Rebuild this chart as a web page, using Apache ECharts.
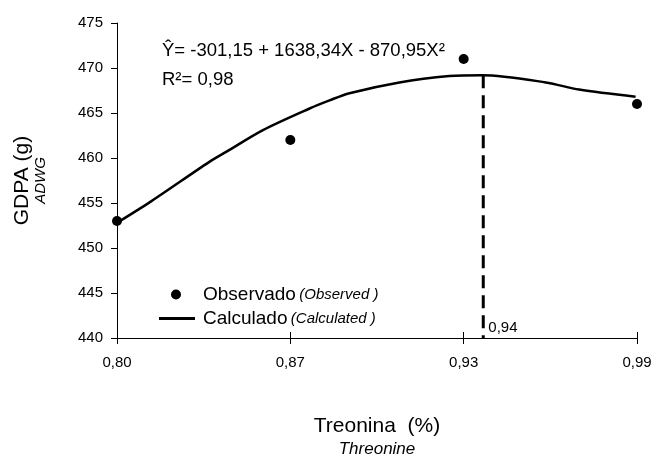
<!DOCTYPE html>
<html>
<head>
<meta charset="utf-8">
<script src="https://cdn.jsdelivr.net/npm/echarts@6/dist/echarts.min.js"></script>
<style>
    html, body { margin: 0; padding: 0; background: #fff; }
    #main { width: 651px; height: 457px; }
</style>
</head>
<body>
<div id="main"></div>
<script type="text/javascript">
    // níveis de treonina (eixo x em posições iguais)
    var categories = ['0,80', '0,87', '0,93', '0,99'];
    // observado
    var obsX = [0, 1, 2, 3];
    var obsY = [453, 462, 471, 466];
    // curva calculada (x em posição de categoria)
    var fitX = [0, 0.19, 0.535, 0.632, 0.842, 1.111, 1.226, 1.341, 1.629, 1.917, 2.107, 2.474, 2.666, 2.992];
    var fitY = [452.8, 455.1, 459.6, 460.7, 463.1, 465.5, 466.4, 467.2, 468.4, 469.1, 469.2, 468.4, 467.6, 466.8];
    // ponto de máximo
    var optX = 2.113;
    var optY = [469.2, 440];
    var optLabel = '0,94';

    var yMin = 440, yMax = 475, yStep = 5;

    var font = 'Liberation Sans, Arial, sans-serif';

    function pairs(xs, ys) {
        return xs.map(function (x, i) { return [x, ys[i]]; });
    }

    var myChart = echarts.init(document.getElementById('main'));
    var option = {
        backgroundColor: '#fff',
        animation: false,
        textStyle: { fontFamily: font, color: '#000' },
        title: [{
            text: 'Ŷ= -301,15 + 1638,34X - 870,95X²',
            left: 162, top: 41, padding: 0,
            textStyle: { fontFamily: font, fontSize: 18.5, fontWeight: 'normal', color: '#000' }
        }, {
            text: 'R²= 0,98',
            left: 162, top: 70, padding: 0,
            textStyle: { fontFamily: font, fontSize: 18.5, fontWeight: 'normal', color: '#000' }
        }],
        legend: [{
            data: ['Observado'],
            left: 171, top: 285, padding: 0,
            icon: 'circle',
            itemWidth: 10, itemHeight: 10,
            formatter: function (name) { return '{a|' + name + '} {b|(Observed )}'; },
            textStyle: {
                rich: {
                    a: { fontFamily: font, fontSize: 19, color: '#000', padding: [0, 0, 0, 17] },
                    b: { fontFamily: font, fontSize: 15, fontStyle: 'italic', color: '#000' }
                }
            }
        }, {
            data: ['Calculado'],
            left: 159, top: 309, padding: 0,
            icon: 'rect',
            itemWidth: 36, itemHeight: 3,
            formatter: function (name) { return '{a|' + name + '} {b|(Calculated )}'; },
            textStyle: {
                rich: {
                    a: { fontFamily: font, fontSize: 19, color: '#000', padding: [0, 0, 0, 3] },
                    b: { fontFamily: font, fontSize: 15, fontStyle: 'italic', color: '#000' }
                }
            }
        }],
        grid: { left: 117, right: 14, top: 23, bottom: 119, outerBoundsMode: 'none' },
        xAxis: [{
            type: 'value',
            min: 0, max: categories.length - 1, interval: 1,
            name: '{a|Treonina  (%)}\n{b|Threonine}',
            nameLocation: 'middle',
            nameGap: 76,
            nameTextStyle: {
                rich: {
                    a: { fontFamily: font, fontSize: 21, color: '#000', lineHeight: 25 },
                    b: { fontFamily: font, fontSize: 17, fontStyle: 'italic', color: '#000', lineHeight: 20 }
                }
            },
            splitLine: { show: false },
            axisLine: { show: true, onZero: false, lineStyle: { color: '#000', width: 1 } },
            axisTick: { show: true, length: 6, lineStyle: { color: '#000' } },
            axisLabel: {
                margin: 17, fontSize: 15, color: '#000', fontFamily: font,
                formatter: function (v) { return categories[Math.round(v)]; }
            }
        }, {
            // marcas internas (cruzando o eixo)
            type: 'value',
            position: 'bottom',
            min: 0, max: categories.length - 1, interval: 1,
            splitLine: { show: false },
            axisLine: { show: false },
            axisTick: { show: true, inside: true, length: 6, lineStyle: { color: '#000' } },
            axisLabel: { show: false }
        }],
        yAxis: {
            type: 'value',
            min: yMin, max: yMax, interval: yStep,
            name: '{a|GDPA (g)}\n{b|ADWG}',
            nameLocation: 'middle',
            nameRotate: 90,
            nameGap: 68,
            nameTextStyle: {
                rich: {
                    a: { fontFamily: font, fontSize: 21, color: '#000', lineHeight: 20 },
                    b: { fontFamily: font, fontSize: 15, fontStyle: 'italic', color: '#000', lineHeight: 17 }
                }
            },
            splitLine: { show: false },
            axisLine: { show: true, lineStyle: { color: '#000', width: 1 } },
            axisTick: { show: true, length: 6, lineStyle: { color: '#000' } },
            axisLabel: { margin: 14, fontSize: 15, color: '#000', fontFamily: font }
        },
        series: [{
            name: 'Calculado',
            type: 'line',
            data: pairs(fitX, fitY),
            smooth: 0.3,
            showSymbol: false,
            color: '#000',
            lineStyle: { color: '#000', width: 2.5 },
            z: 3
        }, {
            name: 'Observado',
            type: 'scatter',
            data: pairs(obsX, obsY),
            symbolSize: 10,
            itemStyle: { color: '#000', opacity: 1 },
            z: 4
        }, {
            name: 'ótimo',
            type: 'line',
            data: [
                [optX, optY[0]],
                { value: [optX, optY[1]], label: { show: true, formatter: optLabel, position: 'right', offset: [0, -10], fontSize: 15, color: '#000', fontFamily: font } }
            ],
            showSymbol: true,
            symbol: 'circle',
            symbolSize: 0.1,
            itemStyle: { color: '#000' },
            lineStyle: { color: '#000', width: 3, type: [13, 7] },
            z: 2
        }]
    };
    myChart.setOption(option);
</script>
</body>
</html>
